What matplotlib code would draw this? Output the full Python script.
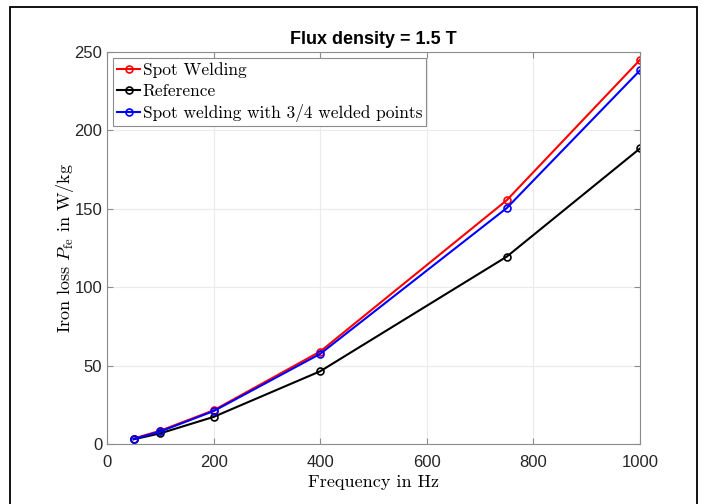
import matplotlib
matplotlib.use('Agg')
import matplotlib.pyplot as plt
from matplotlib.patches import Rectangle

# Data
freq = [50, 100, 200, 400, 750, 1000]
spot_welding = [3.5, 8.5, 21.5, 59.0, 155.5, 245.0]
reference = [3.0, 6.8, 17.3, 46.4, 119.5, 188.5]
spot_welding_34 = [3.2, 8.0, 21.0, 57.5, 150.5, 238.3]

xticks = [0, 200, 400, 600, 800, 1000]
yticks = [0, 50, 100, 150, 200, 250]

plt.rcParams['mathtext.fontset'] = 'cm'
plt.rcParams['font.family'] = ['Liberation Sans', 'DejaVu Sans']

fig = plt.figure(figsize=(7.03, 5.04), dpi=100)
ax = fig.add_axes([0.1522, 0.119, 0.7582, 0.7778])

# outer frame around the figure
fig.patches.append(Rectangle((0.0142, -0.1), 0.977, 1.086, transform=fig.transFigure,
                             fill=False, edgecolor='black', linewidth=1.3))

style = dict(marker='o', markersize=5, markerfacecolor='none', markeredgewidth=1.2, linewidth=1.5)
ax.plot(freq, spot_welding, color='#ff0000', label='Spot Welding', **style)
ax.plot(freq, reference, color='black', label='Reference', **style)
ax.plot(freq, spot_welding_34, color='#0000ff', label='Spot welding with 3/4 welded points', **style)

ax.set_xlim(0, 1000)
ax.set_ylim(0, 250)
ax.set_xticks(xticks)
ax.set_yticks(yticks)
ax.grid(True, color='#ebebeb', linewidth=0.8)
ax.set_axisbelow(True)
for s in ax.spines.values():
    s.set_color('#8c8c8c')
    s.set_linewidth(0.8)
ax.tick_params(direction='in', length=4, width=0.8, color='#8c8c8c', labelsize=12,
               labelcolor='#262626', top=True, right=True)
ax.tick_params(axis='x', pad=8)

ax.set_title('Flux density = 1.5 T', fontsize=13, fontweight='bold', pad=6)
ax.set_xlabel('Frequency in Hz', fontfamily='cmr10', fontsize=13, labelpad=3)
ax.set_ylabel(r'Iron loss $P_\mathrm{fe}$ in W/kg', fontfamily='cmr10', fontsize=13, labelpad=-1)

leg = ax.legend(loc='upper left', prop={'family': 'cmr10', 'size': 12.5}, fancybox=False,
                framealpha=1, edgecolor='#8c8c8c', borderpad=0.25, labelspacing=0.3,
                handlelength=1.3, handletextpad=0.15, borderaxespad=0.35)
leg.get_frame().set_linewidth(0.8)

plt.savefig('out.png', dpi=100)
